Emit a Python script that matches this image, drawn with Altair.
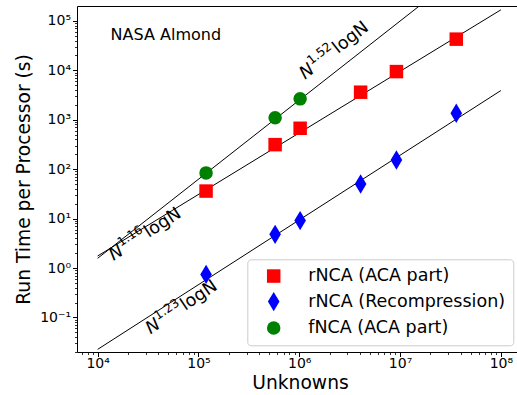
import altair as alt
import pandas as pd

# ---- measured run times (seconds per processor) ----
unknowns = [1.19e5, 5.76e5, 1.02e6, 4.06e6, 9.2e6, 3.61e7]
rnca_aca = [36, 313, 671, 3600, 9400, 42600]
rnca_recomp = [0.74, 4.8, 9.1, 50, 153, 1350]
fnca_unknowns = [1.19e5, 5.76e5, 1.02e6]
fnca_aca = [84, 1090, 2640]

series_names = ["rNCA (ACA part)", "rNCA (Recompression)", "fNCA (ACA part)"]
series_colors = ["#ff0000", "#0000ff", "#008000"]

# ---- fitted complexity trends (end points of each fit line) ----
fit_names = ["rNCA ACA fit", "rNCA recompression fit", "fNCA ACA fit"]
fit_x = [[1e4, 1e8], [1e4, 1e8], [1e4, 2e7]]
fit_y = [[1.75, 1.67e5], [0.0226, 3890], [1.57, 3.0e5]]

# ---- trend labels: N^exp logN ----
annot_exp = ["1.16", "1.23", "1.52"]
annot_x = [14360, 33400, 1.14e6]
annot_y = [1.39, 0.045, 6400]
annot_angle = [327, 326, 322]

FONT = "DejaVu Sans"
x_dom = [6240, 1.445e8]
y_dom = [0.02, 1.995e5]

pts = pd.concat([
    pd.DataFrame({"N": unknowns, "T": rnca_aca, "series": series_names[0]}),
    pd.DataFrame({"N": unknowns, "T": rnca_recomp, "series": series_names[1]}),
    pd.DataFrame({"N": fnca_unknowns, "T": fnca_aca, "series": series_names[2]}),
], ignore_index=True)

fits = pd.concat([
    pd.DataFrame({"N": fx, "T": fy, "fit": name})
    for name, fx, fy in zip(fit_names, fit_x, fit_y)
], ignore_index=True)

ann = pd.DataFrame({"x": annot_x, "y": annot_y, "angle": annot_angle, "exp": annot_exp})
title_df = pd.DataFrame({"x": [13450], "y": [41200], "label": ["NASA Almond"]})

SUP = str.maketrans("-0123456789", "\u207b\u2070\u00b9\u00b2\u00b3\u2074\u2075\u2076\u2077\u2078\u2079")


def log_ticks(lo_exp, hi_exp, dom):
    majors, alls = [], []
    for k in range(lo_exp, hi_exp + 1):
        for m in range(1, 10):
            v = float(f"{m}e{k}")
            if dom[0] <= v <= dom[1]:
                alls.append(v)
                if m == 1:
                    majors.append((v, k))
    return majors, alls


def label_expr(majors):
    expr = "''"
    for v, k in reversed(majors):
        lab = "10" + str(k).translate(SUP)
        expr = f"datum.value == {v!r} ? '{lab}' : ({expr})"
    return expr


def major_test(majors):
    arr = ",".join(repr(v) for v, _ in majors)
    return f"indexof([{arr}], datum.value) >= 0"


x_major, x_all = log_ticks(3, 8, x_dom)
y_major, y_all = log_ticks(-2, 5, y_dom)

common_axis = dict(
    grid=False, labelOverlap=False, labelFlush=False, labelBound=False,
    labelFont=FONT, labelFontSize=14, labelColor="black",
    titleFont=FONT, titleFontSize=18.7, titleFontWeight="normal", titleColor="black",
    domainColor="black", domainWidth=1, tickColor="black",
)

x_axis = alt.Axis(
    values=x_all, labelExpr=label_expr(x_major),
    tickSize={"condition": {"test": major_test(x_major), "value": 4.5}, "value": 2.5},
    tickWidth={"condition": {"test": major_test(x_major), "value": 1}, "value": 0.8},
    labelPadding=0, title="Unknowns", titleX=223, titleY=36, titleAngle=0,
    titleAlign="center", titleBaseline="alphabetic", orient="bottom",
    **common_axis,
)
y_axis = alt.Axis(
    values=y_all, labelExpr=label_expr(y_major),
    tickSize={"condition": {"test": major_test(y_major), "value": 4.5}, "value": 2.5},
    tickWidth={"condition": {"test": major_test(y_major), "value": 1}, "value": 0.8},
    labelPadding=2, title="Run Time per Processor (s)", titleX=-48, titleY=173,
    titleAngle=270, titleAlign="center", titleBaseline="alphabetic", orient="left",
    **common_axis,
)
top_axis = alt.Axis(orient="top", ticks=False, labels=False, title=None,
                    domain=True, domainColor="black", domainWidth=1, grid=False)

xscale = alt.Scale(type="log", domain=x_dom, nice=False)
yscale = alt.Scale(type="log", domain=y_dom, nice=False)

# thin diamond, taller than wide
thin_diamond = "M0,-1.43L0.86,0L0,1.43L-0.86,0Z"

legend = alt.Legend(
    orient="none", legendX=170.3, legendY=253.3, title=None,
    labelFont=FONT, labelFontSize=17.5, labelColor="black", labelLimit=400,
    padding=8, rowPadding=6.5, symbolOffset=9.65, labelOffset=25.85,
    strokeColor="#cccccc", fillColor="rgba(255,255,255,0.8)", cornerRadius=3.5,
    symbolSize=182, symbolStrokeWidth=0,
)

lines = alt.Chart(fits).mark_line(color="black", strokeWidth=1, clip=True).encode(
    x=alt.X("N:Q", scale=xscale, axis=top_axis),
    y=alt.Y("T:Q", scale=yscale, axis=y_axis),
    detail="fit:N",
)

points = alt.Chart(pts).mark_point(filled=True, size=182, opacity=1).encode(
    x=alt.X("N:Q", scale=xscale, axis=x_axis),
    y=alt.Y("T:Q", scale=yscale, axis=None),
    color=alt.Color("series:N", scale=alt.Scale(domain=series_names, range=series_colors),
                    legend=legend, sort=series_names),
    shape=alt.Shape("series:N", scale=alt.Scale(domain=series_names,
                                                range=["square", thin_diamond, "circle"]),
                    legend=legend, sort=series_names),
)

ann_base = alt.Chart(ann).encode(
    x=alt.X("x:Q", scale=xscale, axis=None),
    y=alt.Y("y:Q", scale=yscale, axis=None),
    angle=alt.Angle("angle:Q", scale=None),
)
ann_n = ann_base.mark_text(font=FONT, fontStyle="italic", fontSize=17.6, align="left",
                           baseline="alphabetic", color="black").encode(text=alt.value("N"))
ann_sup = ann_base.mark_text(font=FONT, fontSize=12.3, align="left", baseline="alphabetic",
                             dx=13.8, dy=-8, color="black").encode(text="exp:N")
ann_log = ann_base.mark_text(font=FONT, fontSize=17.6, align="left", baseline="alphabetic",
                             dx=42, color="black").encode(text=alt.value("logN"))

title_txt = alt.Chart(title_df).mark_text(
    font=FONT, fontSize=16, align="left", baseline="alphabetic", color="black"
).encode(
    x=alt.X("x:Q", scale=xscale, axis=None),
    y=alt.Y("y:Q", scale=yscale, axis=None),
    text="label:N",
)

chart = alt.layer(lines, points, ann_n, ann_sup, ann_log, title_txt).resolve_axis(
    x="independent", y="independent"
).properties(
    width=440, height=346, autosize="none",
    padding={"left": 77, "top": 6, "right": 0, "bottom": 43},
    background="white",
).configure_view(stroke=None)

chart.save("out.html", embed_options={"renderer": "svg", "actions": False})
